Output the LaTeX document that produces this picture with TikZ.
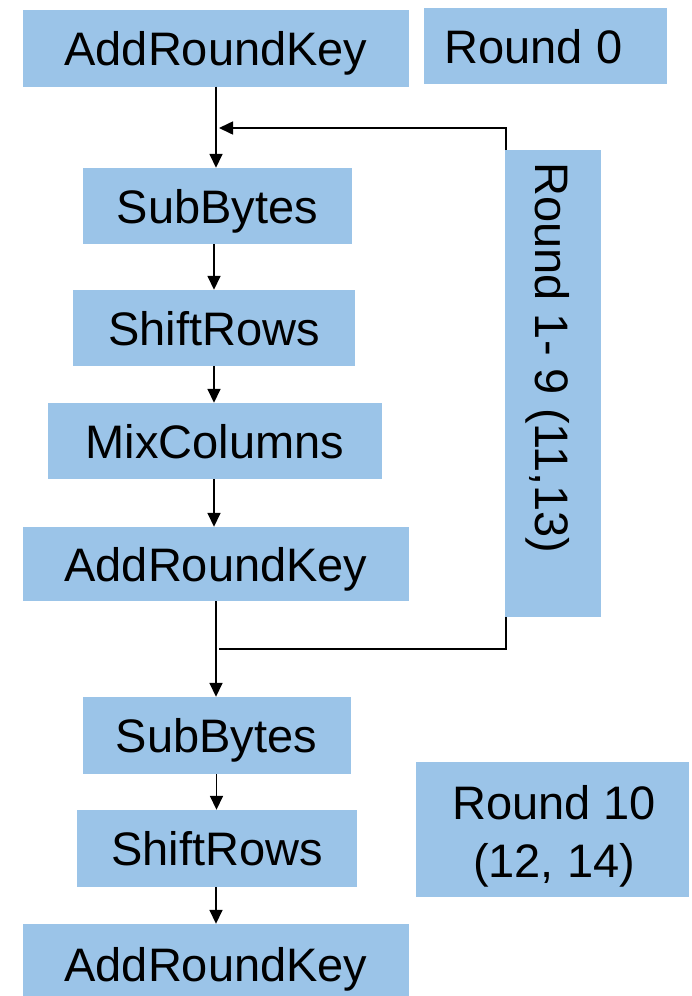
\documentclass[tikz,border=0pt]{standalone}
\usepackage{fontspec}
\setmainfont{Liberation Sans}
\usetikzlibrary{arrows.meta}
\definecolor{stepblue}{HTML}{9BC4E8}
\begin{document}
\begin{tikzpicture}[x=1pt,y=-1pt,
  stagefont/.style={font=\fontsize{47}{58}\selectfont,text height=34pt,text depth=0pt},
  stagebox/.style={stagefont,fill=stepblue,draw=none,inner sep=0pt,anchor=center,align=center},
  panel/.style={fill=stepblue,draw=none,inner sep=0pt},
  arr/.style={line width=1.6pt,-{Triangle[length=14pt,width=13pt]}},
  plain/.style={line width=1.6pt}]
\useasboundingbox (0,0) rectangle (691,996);

% main column of transformation steps
\node[stagebox,minimum width=386pt,minimum height=77pt] (ark0) at (216,48) {AddRoundKey};
\node[stagebox,minimum width=269pt,minimum height=76pt] (sb1) at (217.5,206) {SubBytes};
\node[stagebox,minimum width=282pt,minimum height=76pt] (sr1) at (214,328) {ShiftRows};
\node[stagebox,minimum width=334pt,minimum height=76pt] (mc1) at (215,441) {MixColumns};
\node[stagebox,minimum width=386pt,minimum height=74pt] (ark1) at (216,564) {AddRoundKey};
\node[stagebox,minimum width=268pt,minimum height=77pt] (sb2) at (216.5,735.5) {SubBytes};
\node[stagebox,minimum width=280pt,minimum height=77pt] (sr2) at (217,848.5) {ShiftRows};
\node[stagebox,minimum width=386pt,minimum height=80pt] (ark2) at (216,964) {AddRoundKey};

% round labels
\node[panel,minimum width=243pt,minimum height=76pt] (r0) at (545.5,45.5) {};
\node[stagefont,inner sep=0pt] (r0t) at (533.5,46) {Round 0};
\node[panel,minimum width=96pt,minimum height=467pt] (r19) at (552.5,383.5) {};
\node[stagefont,rotate=-90,inner sep=0pt] (r19t) at (552.5,358) {Round 1- 9 (11,13)};
\node[panel,minimum width=273pt,minimum height=135pt] (r10) at (552.5,829.5) {};
\node[font=\fontsize{47}{58}\selectfont,align=center,inner sep=0pt,anchor=base] (r10t) at (554,877) {Round 10\\(12, 14)};

% flow arrows
\draw[arr] (ark0.south) -- (ark0.south |- sb1.north);
\draw[arr] (sb1.south -| 214,0) -- (sr1.north -| 214,0);
\draw[arr] (sr1.south) -- (sr1.north |- mc1.north);
\draw[arr] (mc1.south -| 214,0) -- (ark1.north -| 214,0);
\draw[arr] (ark1.south) -- (ark1.south |- sb2.north);
\draw[arr] (sb2.south) -- (sb2.south |- sr2.north);
\draw[arr] (sr2.south -| 216,0) -- (ark2.north -| 216,0);

% loop back for the repeated rounds
\coordinate (loopin) at (219,128);
\coordinate (loopout) at (219,649);
\draw[arr] ([xshift=1.5pt]r19.north west) |- (loopin);
\draw[plain] ([xshift=1.5pt]r19.south west) |- (loopout);
\end{tikzpicture}
\end{document}
